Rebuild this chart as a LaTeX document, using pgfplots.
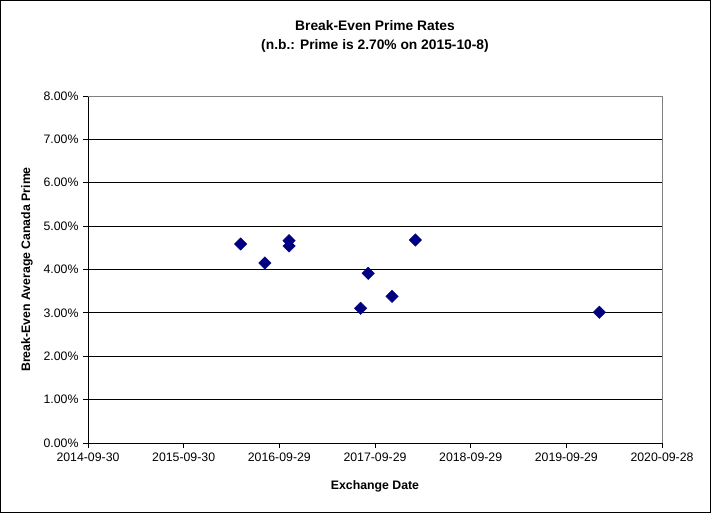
\documentclass[border=0pt]{standalone}
\usepackage{pgfplots}
\pgfplotsset{compat=1.18}
\usepackage{fontspec}
\setmainfont{Liberation Sans}
\definecolor{navy}{RGB}{0,0,128}
\definecolor{plotborder}{RGB}{128,128,128}
\begin{document}
\begin{tikzpicture}[x=1pt,y=1pt]
\useasboundingbox (-88,-70) rectangle (623,443);
\begin{axis}[
  at={(0,0)}, anchor=south west,
  scale only axis, width=574pt, height=347pt,
  xmin=0, xmax=2190, ymin=0, ymax=8,
  xtick={0,365,730,1095,1460,1825,2190},
  xticklabels={2014-09-30,2015-09-30,2016-09-29,2017-09-29,2018-09-29,2019-09-29,2020-09-28},
  ytick={0,1,2,3,4,5,6,7,8},
  yticklabel={\pgfmathprintnumber[fixed,fixed zerofill,precision=2]{\tick}\%},
  /pgf/number format/assume math mode=true,
  ymajorgrids, grid style={black, line width=0.8pt},
  tick align=outside, major tick length=5pt,
  tick style={black, line width=0.8pt},
  axis line style={black, line width=0.8pt},
  separate axis lines,
  axis x line*=bottom, axis y line*=left,
  xtick pos=bottom, ytick pos=left,
  ticklabel style={font=\fontsize{12.3}{14}\selectfont},
  yticklabel style={xshift=-1pt},
  xticklabel style={yshift=-1pt},
  clip=false,
]
\draw[plotborder, line width=0.8pt] (rel axis cs:0,1) -- (rel axis cs:1,1) -- (rel axis cs:1,0);
\addplot[only marks, mark=square*, mark size=4.4pt, color=navy, mark options={rotate=45, fill=navy, draw=navy}]
coordinates {
(582.6,4.588)
(675,4.150)
(767,4.664)
(767,4.542)
(1040,3.105)
(1069,3.912)
(1160,3.382)
(1249,4.680)
(1951,3.013)
};
\end{axis}
\draw[black, line width=1pt] (-87.5,-69.5) rectangle (622.5,442.5);
\node[align=center, font=\bfseries\fontsize{13.8}{19}\selectfont] at (287,406.5) {Break-Even Prime Rates\\(n.b.: Prime is 2.70\% on 2015-10-8)};
\node[font=\bfseries\fontsize{12.3}{14}\selectfont] at (287,-43) {Exchange Date};
\node[font=\bfseries\fontsize{12.3}{14}\selectfont, rotate=90] at (-61,173.5) {Break-Even Average Canada Prime};
\end{tikzpicture}
\end{document}
